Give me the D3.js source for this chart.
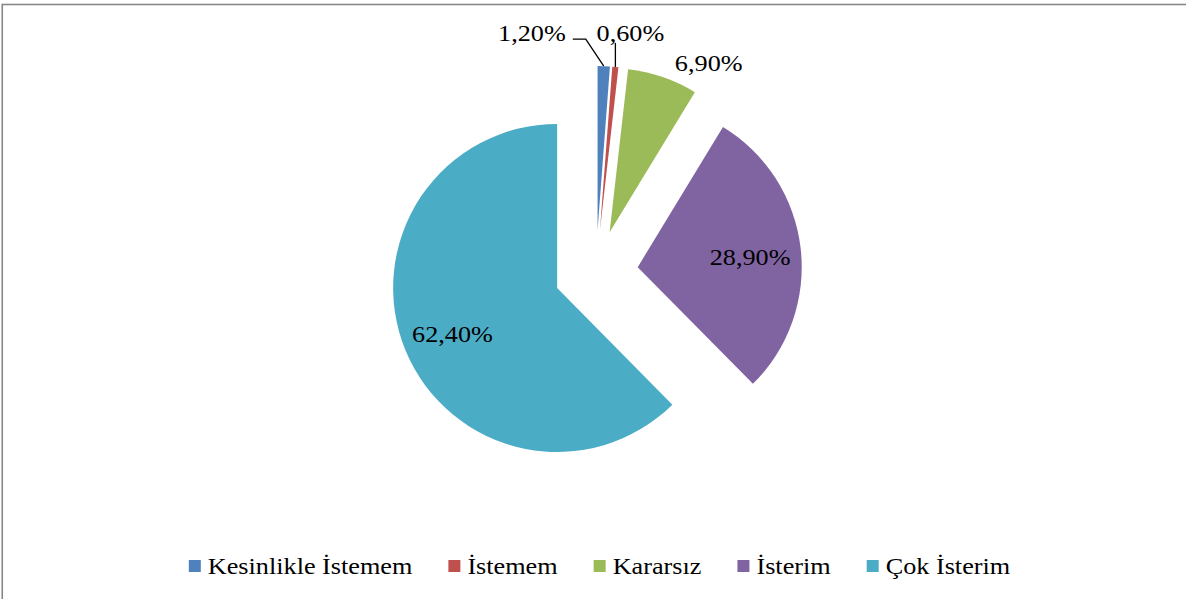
<!DOCTYPE html>
<html>
<head>
<meta charset="utf-8">
<script src="https://cdn.jsdelivr.net/npm/d3@7"></script>
<style>
  body { margin: 0; background: #fff; }
  text { font-family: "Liberation Serif", "Times New Roman", serif; }
</style>
</head>
<body>
<svg id="chart" width="1186" height="599"></svg>
<script>
// data
var categories = ['Kesinlikle İstemem', 'İstemem', 'Kararsız', 'İsterim', 'Çok İsterim'];
var values = [1.2, 0.6, 6.9, 28.9, 62.4];
var labels = ['1,20%', '0,60%', '6,90%', '28,90%', '62,40%'];
var colors = ['#4F81BD', '#C0504D', '#9BBB59', '#8064A2', '#4BACC6'];

// layout
var width = 1186, height = 599,
    cx = 596, cy = 272,
    radius = 164,
    explode = 42,
    fontSize = 23,
    stretch = 1.14; // the original image is a little wider than tall

// outside label placement, relative to the outer edge of the slice
var labelLayout = [
    {dx: -38, dy: -33, anchor: 'end', leader: [[-18, -27], [-31, -27]]},
    {dx: 15, dy: -34, anchor: 'middle', leader: [[0, -24]]},
    {dx: 46, dy: -14, anchor: 'middle'},
    null,
    null
];

var svg = d3.select('#chart');

// chart border (runs off right and bottom like the original)
svg.append('rect')
    .attr('x', 2.25).attr('y', 4.5)
    .attr('width', width + 20).attr('height', height + 20)
    .attr('fill', 'none')
    .attr('stroke', '#878787')
    .attr('stroke-width', 1.6);

var pie = d3.pie().sort(null).value(function(d) { return d; });
var arcs = pie(values);

var arc = d3.arc().innerRadius(0).outerRadius(radius);

function dir(a) { return [Math.sin(a), -Math.cos(a)]; }

function addText(parent, x, y, str, anchor) {
    return parent.append('g')
        .attr('transform', 'translate(' + x + ',' + y + ') scale(' + stretch + ',1)')
        .append('text')
        .attr('text-anchor', anchor || 'start')
        .attr('dy', '0.35em')
        .attr('font-size', fontSize)
        .attr('fill', '#000')
        .text(str);
}

var g = svg.append('g').attr('transform', 'translate(' + cx + ',' + cy + ')');

var slices = g.selectAll('g.slice')
    .data(arcs)
    .enter().append('g')
    .attr('class', 'slice')
    .attr('transform', function(d) {
        var v = dir((d.startAngle + d.endAngle) / 2);
        return 'translate(' + (v[0] * explode) + ',' + (v[1] * explode) + ')';
    });

slices.append('path')
    .attr('d', arc)
    .attr('fill', function(d, i) { return colors[i]; });

// labels
slices.each(function(d, i) {
    var sel = d3.select(this);
    var mid = (d.startAngle + d.endAngle) / 2;
    var v = dir(mid);
    var lay = labelLayout[i];
    if (!lay) {
        var lr = radius * 0.69;
        addText(sel, v[0] * lr, v[1] * lr + 3, labels[i], 'middle');
        return;
    }
    var px = v[0] * radius, py = v[1] * radius;
    if (lay.leader) {
        var pts = [[px, py]].concat(lay.leader.map(function(p) { return [px + p[0], py + p[1]]; }));
        sel.append('path')
            .attr('d', d3.line()(pts))
            .attr('fill', 'none')
            .attr('stroke', '#000')
            .attr('stroke-width', 1.3);
    }
    addText(sel, px + lay.dx, py + lay.dy, labels[i], lay.anchor);
});

// legend
var legend = svg.append('g');
var markerSize = 12, textGap = 7, itemGap = 36, legendY = 566;

var items = legend.selectAll('g.item')
    .data(categories)
    .enter().append('g')
    .attr('class', 'item');

items.append('rect')
    .attr('width', markerSize).attr('height', markerSize)
    .attr('y', legendY - markerSize / 2)
    .attr('fill', function(d, i) { return colors[i]; });

var widths = [];
items.each(function(d) {
    var t = addText(d3.select(this), 0, legendY, d, 'start');
    widths.push(t.node().getComputedTextLength() * stretch);
});

var total = d3.sum(widths) + categories.length * (markerSize + textGap) + (categories.length - 1) * itemGap;
var x = 599.5 - total / 2;
items.each(function(d, i) {
    var it = d3.select(this);
    it.select('rect').attr('x', x);
    it.select('g').attr('transform', 'translate(' + (x + markerSize + textGap) + ',' + legendY + ') scale(' + stretch + ',1)');
    x += markerSize + textGap + widths[i] + itemGap;
});
</script>
</body>
</html>
